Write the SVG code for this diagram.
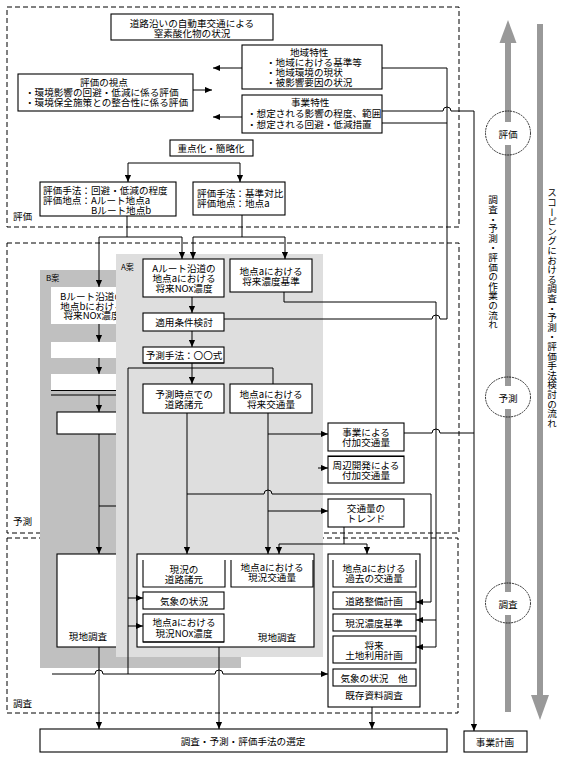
<svg xmlns="http://www.w3.org/2000/svg" width="563" height="758" viewBox="0 0 563 758">
<style>
.t{font-family:"Noto Sans CJK JP","Noto Sans",sans-serif;font-size:9.6px;fill:#000;dominant-baseline:central}
.c{text-anchor:middle}
.s{font-size:8px}
.b{fill:#fff;stroke:#000;stroke-width:1.1}
.nb{fill:#fff;stroke:none}
.dash{fill:none;stroke:#000;stroke-width:1;stroke-dasharray:5,3}
.ln{fill:none;stroke:#000;stroke-width:1}
.ar{fill:none;stroke:#000;stroke-width:1;marker-end:url(#ah)}
.g{fill:#999}
.el{fill:none;stroke:#000;stroke-width:0.8;stroke-dasharray:2,0.8}
</style>
<defs>
<marker id="ah" viewBox="0 0 8 8" refX="8" refY="4" markerWidth="7" markerHeight="7" markerUnits="userSpaceOnUse" orient="auto"><path d="M0,0.5 L8,4 L0,7.5 z" fill="#000"/></marker>
</defs>
<rect width="563" height="758" fill="#fff"/>

<g id="sections">
<rect class="dash" x="7" y="7" width="452" height="220"/>
<text class="t" x="13" y="216">評価</text>
<rect class="dash" x="7" y="243" width="452" height="290"/>
<text class="t" x="13" y="521">予測</text>
<rect class="dash" x="7" y="538" width="451" height="175"/>
<text class="t" x="13" y="703">調査</text>
</g>

<g id="planB">
<rect x="40" y="270" width="201" height="398" fill="#c0c0c0"/>
<text class="t s" x="46" y="277">B案</text>
<g id="b-route"><rect class="nb" x="51" y="287" width="81" height="37"/>
<text class="t c"><tspan x="92" y="296">Bルート沿道の</tspan><tspan x="92" y="305.5">地点bにおける</tspan><tspan x="92" y="315">将来NOx濃度</tspan></text></g>
<rect id="b-box2" class="nb" x="51" y="342" width="81" height="16"/>
<g id="b-box3"><rect class="nb" x="51" y="374" width="81" height="16"/><path class="ln" d="M51,390.5 H116 M51,395 H116" stroke-width="1.2"/></g>
<rect id="b-box4" class="b" x="57" y="412" width="81" height="22"/>
<g id="b-genchi"><rect class="b" x="57" y="554" width="100" height="93"/><text class="t c" x="88" y="636">現地調査</text></g>
</g>

<g id="planA">
<rect x="116" y="254" width="207" height="403" fill="#dedede"/>
<text class="t s" x="121" y="266">A案</text>
<g id="a-route"><rect class="b" x="143" y="259" width="81" height="38"/>
<text class="t c"><tspan x="184" y="268">Aルート沿道の</tspan><tspan x="184" y="278">地点aにおける</tspan><tspan x="184" y="288">将来NOx濃度</tspan></text></g>
<g id="a-std"><rect class="b" x="230" y="259" width="82" height="33"/>
<text class="t c"><tspan x="271" y="271">地点aにおける</tspan><tspan x="271" y="281">将来濃度基準</tspan></text></g>
<g id="a-cond"><rect class="b" x="143" y="313" width="81" height="18"/><text class="t c" x="184" y="322">適用条件検討</text></g>
<g id="a-method"><rect class="b" x="143" y="347" width="81" height="16"/><path class="ln" d="M143,363 H224" stroke-width="2"/><text class="t c" x="184" y="355">予測手法：〇〇式</text></g>
<g id="a-road"><rect class="b" x="143" y="384" width="81" height="29"/>
<text class="t c"><tspan x="184" y="394">予測時点での</tspan><tspan x="184" y="404">道路諸元</tspan></text></g>
<g id="a-traffic"><rect class="b" x="230" y="384" width="82" height="29"/>
<text class="t c"><tspan x="271" y="394">地点aにおける</tspan><tspan x="271" y="404">将来交通量</tspan></text></g>
<g id="a-genchi"><rect class="b" x="137" y="554" width="177" height="93"/><text class="t c" x="277" y="637">現地調査</text></g>
<g id="a-road-now"><path class="b" d="M143,560 V587 H225 V560"/><text class="t c"><tspan x="184" y="569">現況の</tspan><tspan x="184" y="579">道路諸元</tspan></text></g>
<g id="a-traffic-now"><path class="b" d="M231,560 V587 H313 V560"/><text class="t c"><tspan x="272" y="567">地点aにおける</tspan><tspan x="272" y="577">現況交通量</tspan></text></g>
<g id="a-weather"><rect class="b" x="143" y="592" width="81" height="17"/><text class="t c" x="184" y="601">気象の状況</text></g>
<g id="a-nox-now"><rect class="b" x="143" y="614" width="81" height="28"/><path class="ln" d="M143,642 H224" stroke-width="2"/>
<text class="t c"><tspan x="184" y="622">地点aにおける</tspan><tspan x="184" y="633">現況NOx濃度</tspan></text></g>
</g>

<g id="eval-nodes">
<g id="n-top"><rect class="b" x="111" y="14" width="162" height="26"/>
<text class="t c"><tspan x="192" y="23">道路沿いの自動車交通による</tspan><tspan x="192" y="33">窒素酸化物の状況</tspan></text></g>
<g id="n-region"><rect class="b" x="242" y="45" width="140" height="44"/>
<text class="t"><tspan x="290" y="52">地域特性</tspan><tspan x="266" y="62">・地域における基準等</tspan><tspan x="266" y="72">・地域環境の現状</tspan><tspan x="266" y="82">・被影響要因の状況</tspan></text></g>
<g id="n-project"><rect class="b" x="242" y="95" width="140" height="38"/>
<text class="t"><tspan x="291" y="102">事業特性</tspan><tspan x="247" y="113">・想定される影響の程度、範囲</tspan><tspan x="247" y="124">・想定される回避・低減措置</tspan></text></g>
<g id="n-view"><rect class="b" x="18" y="74" width="175" height="37"/>
<text class="t"><tspan x="80" y="82">評価の視点</tspan><tspan x="25" y="92">・環境影響の回避・低減に係る評価</tspan><tspan x="25" y="102">・環境保全施策との整合性に係る評価</tspan></text></g>
<g id="n-focus"><rect class="b" x="170" y="140" width="83" height="16"/><text class="t c" x="211" y="148">重点化・簡略化</text></g>
<g id="n-eval1"><rect class="b" x="40" y="182" width="136" height="34"/>
<text class="t"><tspan x="43" y="190">評価手法：回避・低減の程度</tspan><tspan x="43" y="200">評価地点：Aルート地点a</tspan><tspan x="91" y="210">Bルート地点b</tspan></text></g>
<g id="n-eval2"><rect class="b" x="193" y="182" width="92" height="33"/>
<text class="t"><tspan x="197" y="193">評価手法：基準対比</tspan><tspan x="197" y="203">評価地点：地点a</tspan></text></g>
</g>

<g id="pred-nodes">
<g id="n-add1"><rect class="b" x="328" y="423" width="76" height="28"/><text class="t c"><tspan x="366" y="432">事業による</tspan><tspan x="366" y="442">付加交通量</tspan></text></g>
<g id="n-add2"><rect class="b" x="328" y="456" width="76" height="27"/><path class="ln" d="M328,456.5 H404" stroke-width="1.8"/><text class="t c"><tspan x="366" y="465">周辺開発による</tspan><tspan x="366" y="475">付加交通量</tspan></text></g>
<g id="n-trend"><rect class="b" x="328" y="499" width="76" height="28"/><text class="t c"><tspan x="366" y="508">交通量の</tspan><tspan x="366" y="518">トレンド</tspan></text></g>
</g>

<g id="survey-nodes">
<g id="n-existing"><rect class="b" x="328" y="554" width="92" height="153"/><text class="t c" x="374" y="695">既存資料調査</text></g>
<g id="n-past"><path class="b" d="M333,560 V587 H416 V560"/><text class="t c"><tspan x="374" y="568">地点aにおける</tspan><tspan x="374" y="578">過去の交通量</tspan></text></g>
<g id="n-roadplan"><rect class="b" x="333" y="592" width="83" height="17"/><text class="t c" x="374" y="601">道路整備計画</text></g>
<g id="n-stdnow"><rect class="b" x="333" y="614" width="83" height="17"/><text class="t c" x="374" y="623">現況濃度基準</text></g>
<g id="n-landuse"><rect class="b" x="333" y="636" width="83" height="27"/><text class="t c"><tspan x="374" y="645">将来</tspan><tspan x="374" y="655">土地利用計画</tspan></text></g>
<g id="n-weather2"><rect class="b" x="333" y="669" width="83" height="17"/><text class="t c" x="374" y="678">気象の状況　他</text></g>
</g>

<g id="n-select"><rect class="b" x="40" y="729" width="407" height="23"/><text class="t c" x="243" y="741">調査・予測・評価手法の選定</text></g>
<g id="n-plan"><rect class="b" x="464" y="731" width="63" height="21"/><text class="t c" x="495" y="741.5">事業計画</text></g>

<g id="flow">
<rect class="g" x="505" y="40" width="6" height="672"/>
<path class="g" d="M508,20 L516.5,43 L499.5,43 z"/>
<rect class="g" x="537" y="24" width="6" height="673"/>
<path class="g" d="M540,720 L549,695 L531,695 z"/>
<rect x="484" y="122" width="48" height="23" fill="#fff"/>
<ellipse class="el" cx="508" cy="133" rx="22.5" ry="22"/>
<text class="t c" x="508" y="134">評価</text>
<rect x="484" y="386" width="48" height="23" fill="#fff"/>
<ellipse class="el" cx="508" cy="397" rx="22.5" ry="20"/>
<text class="t c" x="508" y="398">予測</text>
<rect x="484" y="592" width="48" height="23" fill="#fff"/>
<ellipse class="el" cx="508" cy="603" rx="22.5" ry="20"/>
<text class="t c" x="508" y="604">調査</text>
<text class="t" x="493" y="195" style="writing-mode:vertical-rl">調査・予測・評価の作業の流れ</text>
<text class="t" x="552" y="188" style="writing-mode:vertical-rl">スコーピングにおける調査・予測・評価手法検討の流れ</text>
</g>

<g id="connectors">
<path class="ar" d="M242,68 H213"/>
<path class="ar" d="M193,90 H212"/>
<path class="ar" d="M242,117 H213"/>
<path class="ln" d="M224,319 H432 A4,4 0 0 1 440,319 H447 V68 H382"/>
<path class="ln" d="M382,123 H447"/>
<path class="ar" d="M382,111 H443 A4,4 0 0 1 451,111 H474 V731"/>
<path class="ln" d="M404,433 H432 A4,4 0 0 1 440,433 H474"/>
<path class="ln" d="M128,163 H240"/>
<path class="ar" d="M128,163 V182"/>
<path class="ar" d="M240,163 V182"/>
<path class="ln" d="M127,216 V237 M99,237 H182 M242,215 V237 M193,237 H285"/>
<path class="ar" d="M99,237 V287"/>
<path class="ar" d="M182,237 V259"/>
<path class="ar" d="M193,237 V259"/>
<path class="ar" d="M285,237 V259"/>
<path class="ar" d="M99,324 V342"/>
<path class="ar" d="M99,358 V374"/>
<path class="ar" d="M99,395 V412"/>
<path class="ar" d="M99,434 V554"/>
<path class="ln" d="M99,506 H116"/>
<path class="ar" d="M99,647 V729"/>
<path class="ar" d="M192,297 V313"/>
<path class="ar" d="M192,331 V347"/>
<path class="ar" d="M192,363 V384"/>
<path class="ln" d="M128,368 H273 V384 M128,368 V674"/>
<path class="ar" d="M128,598 H143"/>
<path class="ar" d="M128,626 H143"/>
<path class="ar" d="M187,413 V554"/>
<path class="ar" d="M187,494 H264 A4,4 0 0 1 272,494 H431 V602 H416"/>
<path class="ar" d="M268,413 V554"/>
<path class="ar" d="M268,434 H328"/>
<path class="ar" d="M268,511 H328"/>
<path class="ar" d="M318,468 H328"/>
<path class="ar" d="M284,292 V302 H436 V647 H416"/>
<path class="ar" d="M436,620 H416"/>
<path class="ln" d="M344,527 V544 M279,544 H367"/>
<path class="ar" d="M279,544 V554"/>
<path class="ar" d="M367,544 V554"/>
<path class="ar" d="M52,674 H95 A4,4 0 0 1 103,674 H215 A4,4 0 0 1 223,674 H328"/>
<path class="ar" d="M219,647 V729"/>
<path class="ar" d="M372,707 V729"/>
</g>
</svg>
